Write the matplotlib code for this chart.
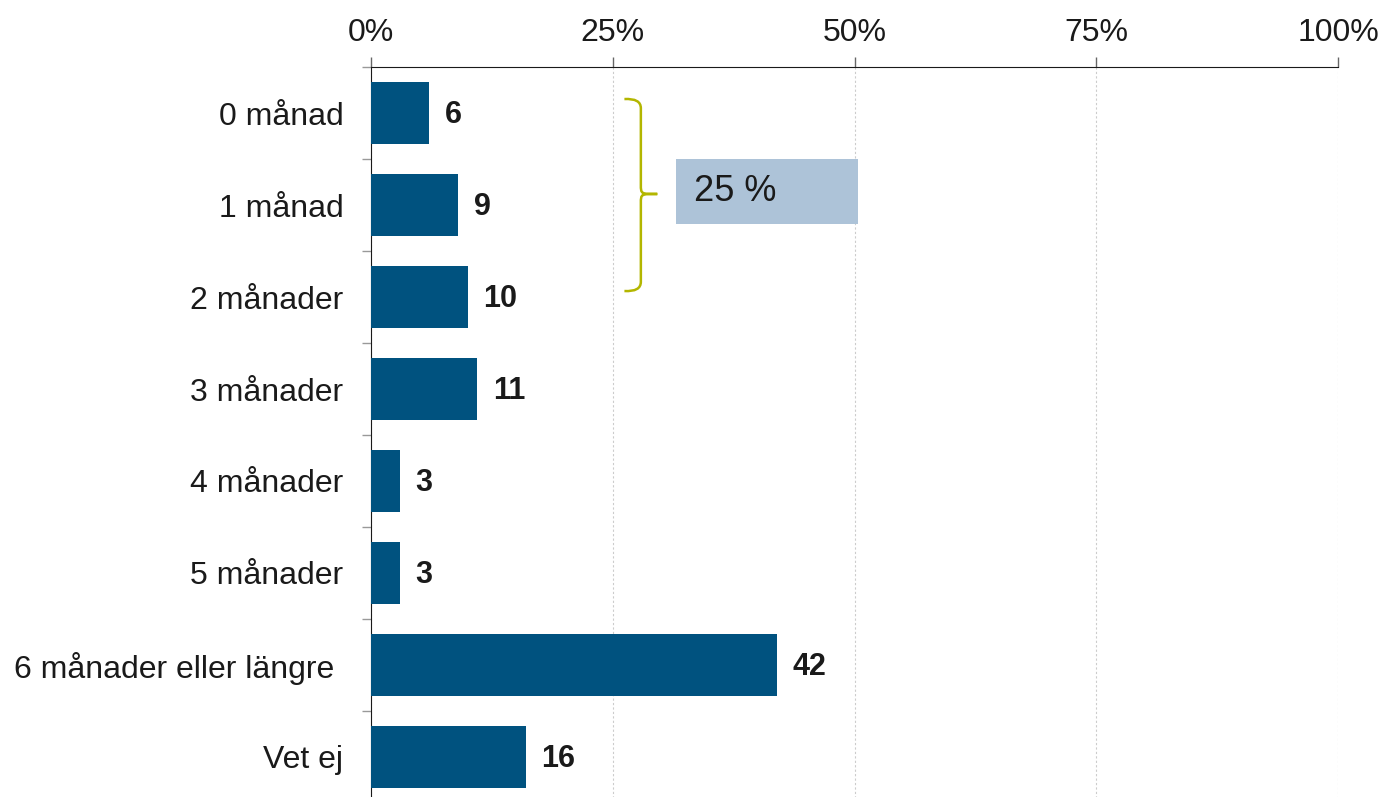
import matplotlib
matplotlib.use("Agg")
import matplotlib.pyplot as plt
from matplotlib.path import Path
from matplotlib.patches import PathPatch, Rectangle
import numpy as np

plt.rcParams['font.family'] = ['Liberation Sans', 'DejaVu Sans']

categories = ["0 månad", "1 månad", "2 månader", "3 månader", "4 månader",
              "5 månader", "6 månader eller längre ", "Vet ej"]
values = [6, 9, 10, 11, 3, 3, 42, 16]
xticks = [0, 25, 50, 75, 100]
xticklabels = ["0%", "25%", "50%", "75%", "100%"]

bar_color = "#00527f"
fig = plt.figure(figsize=(13.82, 7.97), dpi=100)
ax = fig.add_axes([0.2685, -0.0075, 0.6997, 0.9234])

y = np.arange(len(categories))
ax.barh(y, values, height=0.67, color=bar_color, zorder=3)
for yi, v in zip(y, values):
    ax.text(v + 1.6, yi + 0.02, str(v), va="center", ha="left", fontsize=22,
            fontweight="bold", color="#1a1a1a")

ax.set_xlim(0, 100)
ax.set_ylim(len(categories) - 0.5, -0.5)
ax.set_yticks(y)
ax.set_yticklabels(categories, fontsize=23, color="#1a1a1a")
ax.set_yticks(np.arange(-0.5, len(categories)), minor=True)
ax.tick_params(axis="y", which="major", length=0, pad=20)
ax.tick_params(axis="y", which="minor", length=6.5, color="#999999", width=1)

ax.xaxis.tick_top()
ax.set_xticks(xticks)
ax.set_xticklabels(xticklabels, fontsize=23, color="#1a1a1a")
ax.tick_params(axis="x", length=7, color="#666666", width=1, pad=7)
ax.grid(axis="x", color="#cccccc", linestyle=(0, (2, 2)), linewidth=0.8, zorder=0)

for s in ["right", "bottom"]:
    ax.spines[s].set_visible(False)
ax.spines["top"].set_color("#1a1a1a")
ax.spines["left"].set_color("#1a1a1a")

# brace
bx0, bx1, bx2 = 26.2, 27.9, 29.6
ytop, ymid, ybot = -0.152, 0.88, 1.935
verts = [(bx0, ytop), (bx1, ytop - 0.01), (bx1, ytop + 0.1),
         (bx1, ymid - 0.1),
         (bx1, ymid), (bx1, ymid), (bx2, ymid),
         (bx1, ymid), (bx1, ymid), (bx1, ymid + 0.1),
         (bx1, ybot - 0.1),
         (bx1, ybot + 0.01), (bx0, ybot)]
codes = [Path.MOVETO, Path.CURVE3, Path.CURVE3,
         Path.LINETO,
         Path.CURVE4, Path.CURVE4, Path.CURVE4,
         Path.CURVE4, Path.CURVE4, Path.CURVE4,
         Path.LINETO,
         Path.CURVE3, Path.CURVE3]
ax.add_patch(PathPatch(Path(verts, codes), facecolor="none",
                       edgecolor="#b3b600", linewidth=1.8, zorder=4))

ax.add_patch(Rectangle((31.5, 0.5), 18.9, 0.707, facecolor="#adc3d8",
                       edgecolor="none", zorder=4))
ax.text(33.4, 0.853, "25 %", fontsize=26, va="center", ha="left",
        color="#1a1a1a", zorder=5)

fig.savefig("out.png", dpi=100)
